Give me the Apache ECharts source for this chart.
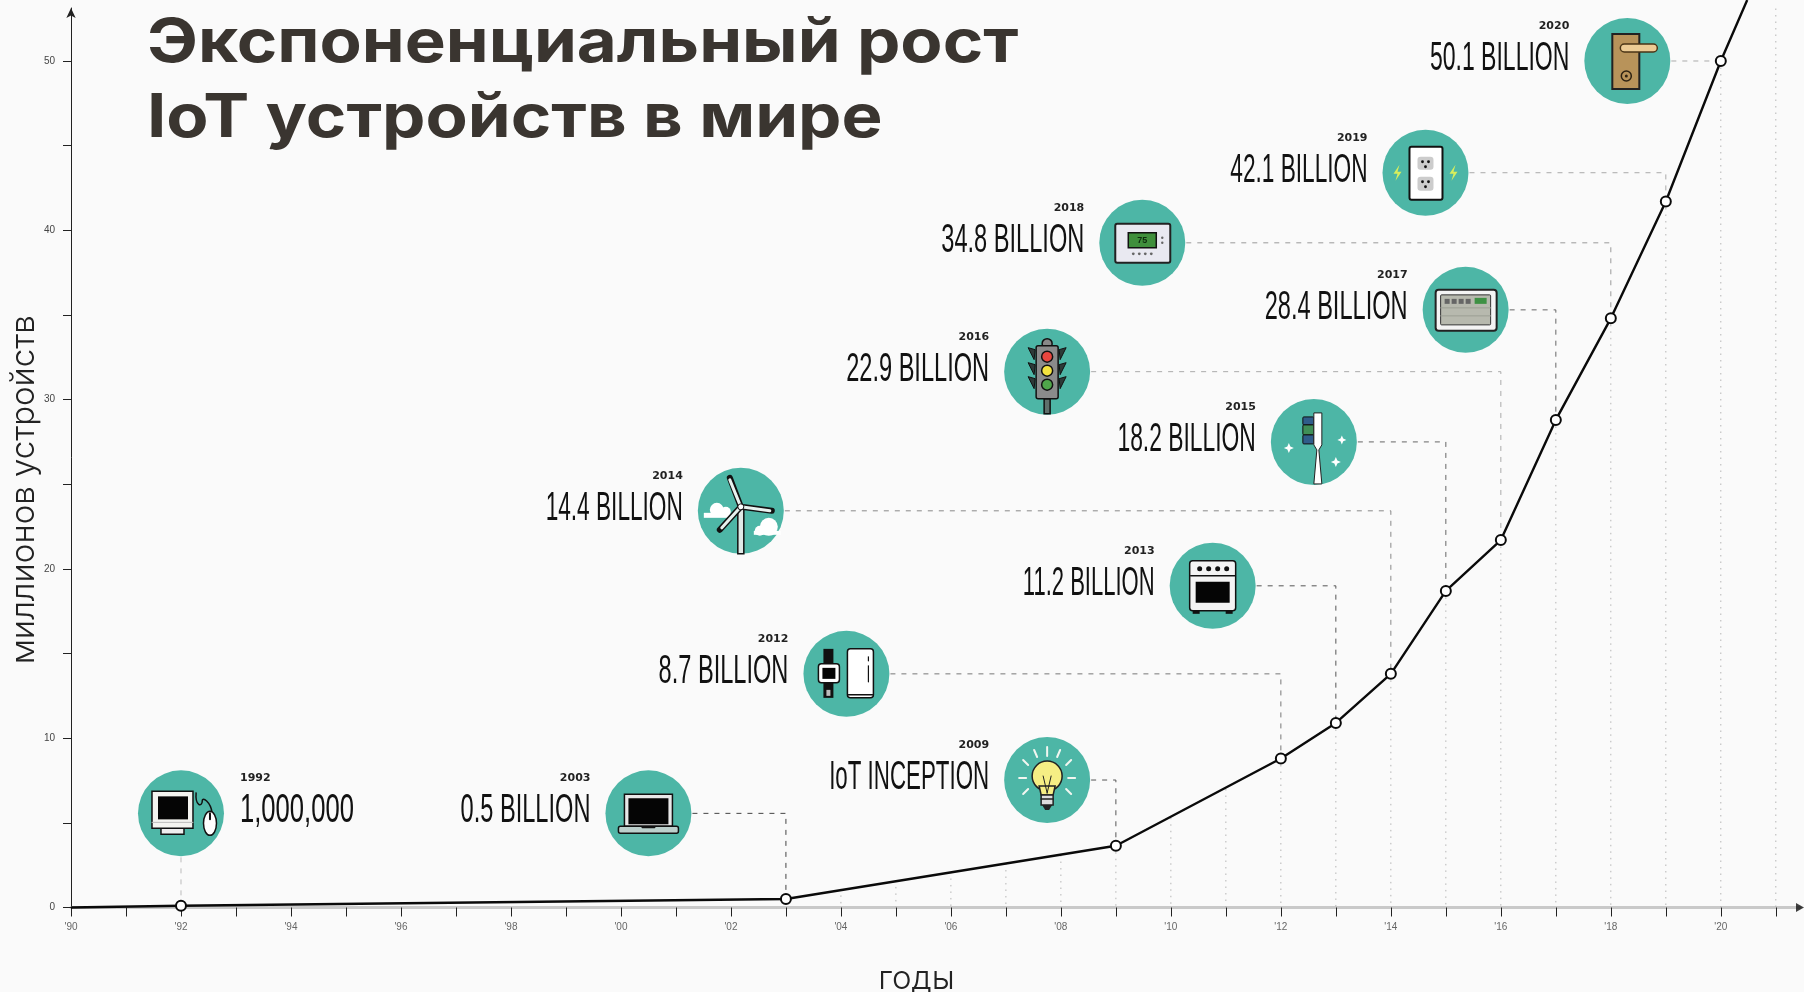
<!DOCTYPE html>
<html>
<head>
<meta charset="utf-8">
<style>
  html, body { margin: 0; padding: 0; background: #fafafa; }
  #chart { width: 1804px; height: 992px; }
</style>
</head>
<body>
<div id="chart"></div>
<script src="https://cdn.jsdelivr.net/npm/echarts@6/dist/echarts.min.js"></script>
<script>
// curve
const lineYears = [1990, 1992, 2003, 2009, 2012, 2013, 2014, 2015, 2016, 2017, 2018, 2019, 2020, 2020.48]
const lineValues = [0, 0.1, 0.5, 3.65, 8.8, 10.9, 13.8, 18.7, 21.7, 28.8, 34.8, 41.7, 50, 53.6]

// dotted drop lines under the curve
const dropYears = [2004, 2005, 2006, 2007, 2008, 2009, 2010, 2011, 2012, 2013, 2014, 2015, 2016, 2017, 2018, 2019, 2020, 2021]
const dropTops = [1.1, 1.6, 2.1, 2.6, 3.1, 3.65, 5.3, 7, 8.8, 10.9, 13.8, 18.7, 21.7, 28.8, 34.8, 41.7, 50, 53.1]

// callouts
const calloutYears = [1992, 2003, 2009, 2012, 2013, 2014, 2015, 2016, 2017, 2018, 2019, 2020]
const calloutValues = [0.1, 0.5, 3.65, 8.8, 10.9, 13.8, 18.7, 21.7, 28.8, 34.8, 41.7, 50]
const calloutTexts = ['1,000,000', '0.5 BILLION', 'IoT INCEPTION', '8.7 BILLION', '11.2 BILLION', '14.4 BILLION',
  '18.2 BILLION', '22.9 BILLION', '28.4 BILLION', '34.8 BILLION', '42.1 BILLION', '50.1 BILLION']
const calloutYearTexts = ['1992', '2003', '2009', '2012', '2013', '2014', '2015', '2016', '2017', '2018', '2019', '2020']
const iconNames = ['monitor', 'laptop', 'bulb', 'fridge', 'oven', 'turbine', 'brush', 'traffic', 'panel', 'thermostat', 'outlet', 'lock']
const iconYears = [1992, 2000.5, 2007.75, 2004.1, 2010.76, 2002.18, 2012.6, 2007.75, 2015.36, 2009.48, 2014.63, 2018.3]
const iconValues = [5.56, 5.56, 7.53, 13.8, 19, 23.43, 27.5, 31.65, 35.3, 39.26, 43.4, 50]
const dashColors = ['#bbb', '#444', '#555', '#777', '#555', '#888', '#666', '#aaa', '#666', '#999', '#aaa', '#aaa']
// no condensed face installed, texts are squeezed one by one
const textSqueeze = [0.64, 0.59, 0.558, 0.59, 0.551, 0.566, 0.571, 0.59, 0.59, 0.59, 0.566, 0.575]

// axes
const xTickYears = []
for (let y = 1990; y <= 2021; y++) xTickYears.push(y)
const xLabelYears = [1990, 1992, 1994, 1996, 1998, 2000, 2002, 2004, 2006, 2008, 2010, 2012, 2014, 2016, 2018, 2020]
const yTicks = [0, 5, 10, 15, 20, 25, 30, 35, 40, 45, 50]
const yLabels = [0, 10, 20, 30, 40, 50]

const titleText = 'Экспоненциальный рост\nIoT устройств в мире'
const xName = 'годы'
const yName = 'миллионов устройств'

const TEAL = '#4db6a6'
const INK = '#111'

const R = (x, y, w, h, fill, stroke, r, lw) => ({ type: 'rect', shape: { x, y, width: w, height: h, r: r || 0 }, style: { fill: fill || 'none', stroke: stroke || 'none', lineWidth: lw || 1.5 } })
const C = (cx, cy, r, fill, stroke, lw) => ({ type: 'circle', shape: { cx, cy, r }, style: { fill: fill || 'none', stroke: stroke || 'none', lineWidth: lw || 1.5 } })
const L = (x1, y1, x2, y2, color, lw) => ({ type: 'line', shape: { x1, y1, x2, y2 }, style: { stroke: color, lineWidth: lw || 1.5, lineCap: 'round' } })
const P = (points, fill, stroke, lw) => ({ type: 'polygon', shape: { points }, style: { fill: fill || 'none', stroke: stroke || 'none', lineWidth: lw || 1.5 } })
const E = (cx, cy, rx, ry, fill, stroke, lw) => ({ type: 'ellipse', shape: { cx, cy, rx, ry }, style: { fill, stroke, lineWidth: lw || 1.5 } })

// 4 pointed sparkle
const spark = (x, y, s) => P([[x, y - s], [x + s * 0.3, y - s * 0.3], [x + s, y], [x + s * 0.3, y + s * 0.3], [x, y + s], [x - s * 0.3, y + s * 0.3], [x - s, y], [x - s * 0.3, y - s * 0.3]], '#fff')
const bolt = (x, y, flip) => P([[x + 2 * flip, y - 8], [x - 4 * flip, y + 1], [x, y + 1], [x - 2 * flip, y + 8], [x + 4 * flip, y - 1], [x, y - 1]], '#d8ee5c')
const blade = (x2, y2) => L(0, -4, x2, y2, INK, 6)
const bladeIn = (x2, y2) => L(0, -4, x2, y2, '#e8f2ef', 3)

const icons = {
  monitor: () => [
    R(-20, 15, 23, 6, '#eee', INK), R(-29, -22, 41, 37, '#f4f4f0', INK), R(-23, -17, 30, 23, '#050505'),
    L(-29, 9, 12, 9, '#bbb', 1),
    { type: 'path', shape: { pathData: 'M16,-21 C15,-8 21,-8 21,-13 C21,-18 28,-12 29,-3', width: 16, height: 20, x: 15, y: -21, layout: 'cover' }, style: { fill: 'none', stroke: INK, lineWidth: 1.5 } },
    E(29, 10, 6.5, 12, '#fff', INK), L(29, 0, 29, 6, INK, 2)
  ],
  laptop: () => [
    R(-24, -19, 48, 32, '#e8e8e8', INK), R(-20, -15, 40, 26, '#050505'),
    R(-30, 13, 60, 7, '#bcd0cc', INK, 2), L(-6, 14, 6, 14, INK, 2)
  ],
  bulb: () => {
    const rays = [[0, -33, 0, -24], [-13, -30, -10, -23], [13, -30, 10, -23], [-24, -20, -19, -15], [24, -20, 19, -15], [-28, -2, -21, -2], [28, -2, 21, -2], [-24, 14, -19, 9], [24, 14, 19, 9]]
    return rays.map(r => L(r[0], r[1], r[2], r[3], '#f2f6f0', 2)).concat([
      C(0, -4, 15, '#f6ee84', '#222'), P([[-8, 6], [8, 6], [6, 15], [-6, 15]], '#f6ee84', '#222'),
      L(-4, -4, 0, 13, '#222', 1), L(4, -4, 0, 13, '#222', 1),
      R(-6, 15, 12, 10, '#ddd', '#222'), L(-6, 19, 6, 19, '#222', 1.5), P([[-5, 25], [5, 25], [2, 30], [-2, 30]], '#222')
    ])
  },
  fridge: () => [
    R(-23, -25, 10, 49, INK), R(-28, -10, 21, 19, '#fff', INK, 3), R(-24, -6, 13, 11, '#050505'),
    R(-20, 16, 4, 6, '#bbb'),
    R(1, -25, 26, 49, '#fff', INK, 3), L(2, 21, 26, 21, INK, 1.5), L(22, -17, 22, -13, INK, 1.2), L(22, -8, 22, 8, INK, 1.2)
  ],
  oven: () => [
    R(-20, 24, 7, 4, INK), R(13, 24, 7, 4, INK),
    R(-23, -25, 46, 50, '#f4f4f4', INK, 3), L(-22, -10, 22, -10, INK, 1.5),
    C(-13, -17, 2.5, INK), C(-4, -17, 2.5, INK), C(5, -17, 2.5, INK), C(14, -17, 2.5, INK),
    R(-17, -4, 34, 21, '#050505')
  ],
  turbine: () => [
    C(-24, -1, 7, '#fff'), C(-15, 1, 5, '#fff'), R(-37, 2, 26, 5, '#fff'),
    C(28, 16, 9, '#fff'), C(19, 20, 5, '#fff'), R(13, 20, 27, 4, '#fff'),
    R(-3, -4, 6, 47, '#dfe9e6', INK, 0, 1.5),
    blade(-11, -33), blade(31, 0), blade(-21, 19), bladeIn(-11, -31), bladeIn(29, 0), bladeIn(-19, 17), C(0, -4, 3, '#fff', INK, 1)
  ],
  brush: () => [
    R(-11, -25, 11, 8, '#2f5d8a', INK, 1, 1), R(-11, -17, 11, 10, '#3f8f57', INK, 1, 1), R(-11, -7, 11, 9, '#2f5d8a', INK, 1, 1),
    P([[0, -29], [8, -29], [8, 3], [5, 8], [8, 42], [0, 42], [3, 8], [0, 3]], '#fff', '#222', 1),
    spark(28, -2, 4.5), spark(22, 20, 5), spark(-25, 6, 5)
  ],
  traffic: () => [
    R(-3, 27, 6, 15, '#5f6f6b', '#111'),
    P([[-12, -22], [-19, -24], [-13, -12]], '#2d3a38', '#111', 1), P([[12, -22], [19, -24], [13, -12]], '#2d3a38', '#111', 1),
    P([[-12, -7], [-19, -9], [-13, 3]], '#2d3a38', '#111', 1), P([[12, -7], [19, -9], [13, 3]], '#2d3a38', '#111', 1),
    P([[-12, 7], [-19, 5], [-13, 17]], '#2d3a38', '#111', 1), P([[12, 7], [19, 5], [13, 17]], '#2d3a38', '#111', 1),
    C(0, -28, 5, '#888', '#111'),
    R(-11, -26, 22, 53, '#8b8b8b', '#111', 2),
    C(0, -15, 5.5, '#e8463f', '#111'), C(0, -1, 5.5, '#f3e23f', '#111'), C(0, 13, 5.5, '#4fa64a', '#111')
  ],
  panel: () => {
    const keys = [-21, -14, -7, 0].map(x => R(x, -11, 5, 5, '#666'))
    return [R(-30, -20, 61, 41, '#f4f4f4', '#222', 3, 2), R(-25, -15, 50, 30, '#b7b9ae', '#333', 1, 1)]
      .concat(keys, [R(9, -12, 12, 6, '#3e9144'), L(-25, -2, 25, -2, '#9c9e94', 1), L(-25, 6, 25, 6, '#9c9e94', 1)])
  },
  thermostat: () => [
    R(-27, -19, 55, 39, '#e9e9f1', '#222', 2, 2), R(-14, -10, 28, 15, '#3f8f3c', '#111', 0, 1.5),
    { type: 'text', x: 0, y: -2.5, style: { text: '75', font: 'bold 9px "Liberation Sans"', fill: '#0c2a0c', align: 'center', verticalAlign: 'middle' } },
    C(-9, 11, 1.4, '#666'), C(-3, 11, 1.4, '#666'), C(3, 11, 1.4, '#666'), C(9, 11, 1.4, '#666'),
    C(20, -5, 1.2, '#666'), C(20, 0, 1.2, '#666')
  ],
  outlet: () => [
    bolt(-28, 0, 1), bolt(28, 0, 1),
    R(-16, -26, 33, 53, '#fff', INK, 2, 2), R(-8, -16, 16, 13, '#ccc', null, 3), R(-8, 4, 16, 14, '#ccc', null, 3),
    C(-3, -11, 1.4, INK), C(3, -11, 1.4, INK), C(0, -6, 1.4, INK),
    C(-3, 9, 1.4, INK), C(3, 9, 1.4, INK), C(0, 14, 1.4, INK)
  ],
  lock: () => [
    R(-15, -27, 27, 55, '#b8935a', '#222', 0, 2),
    R(-7, -17, 37, 8, '#eccb94', '#4a3516', 4), C(-1, 15, 5, 'none', '#2d2212'), C(-1, 15, 1.5, '#2d2212')
  ]
}

const option = {
  backgroundColor: '#fafafa',
  animation: false,
  graphic: [
    {
      // title is wider than any installed face, so stretch it
      type: 'text',
      x: 147,
      y: 6,
      scaleX: 1.149,
      z: 10,
      style: { text: titleText, font: '700 60px Inter', fill: '#3a3530', lineHeight: 75 }
    }
  ],
  grid: { left: 71, right: 4, top: 8, bottom: 84.5, outerBoundsMode: 'none' },
  xAxis: {
    type: 'value',
    min: 1990,
    max: 2021.44,
    interval: 1,
    splitLine: { show: false },
    name: xName,
    nameLocation: 'middle',
    nameGap: 55,
    nameTextStyle: { fontFamily: 'Inter', fontWeight: 300, fontSize: 33, color: '#222', padding: [0, 38, 0, 0] },
    axisLine: { onZero: false, lineStyle: { color: '#c9c9c9', width: 3 } },
    axisTick: { customValues: xTickYears, length: 9, lineStyle: { color: '#222', width: 1 } },
    axisLabel: {
      customValues: xLabelYears,
      margin: 15,
      fontFamily: 'Liberation Sans',
      fontSize: 10,
      color: '#666',
      formatter: v => "'" + String(v).slice(2)
    }
  },
  yAxis: {
    type: 'value',
    min: 0,
    max: 53.13,
    interval: 5,
    splitLine: { show: false },
    name: yName,
    nameLocation: 'middle',
    nameGap: 30,
    nameMoveOverlap: false,
    nameTextStyle: { fontFamily: 'Inter', fontWeight: 300, fontSize: 33, color: '#222', padding: [0, 64, 0, 0] },
    axisLine: { show: true, symbol: ['none', 'arrow'], symbolSize: [7, 10], lineStyle: { color: '#222', width: 1 } },
    axisTick: { customValues: yTicks, length: 8, lineStyle: { color: '#222', width: 1 } },
    axisLabel: {
      customValues: yLabels,
      margin: 16,
      fontFamily: 'Liberation Sans',
      fontSize: 10,
      color: '#444'
    }
  },
  series: [
    {
      // dotted drops
      type: 'custom',
      z: 1,
      clip: false,
      silent: true,
      data: dropYears.map((y, i) => [y, dropTops[i]]),
      renderItem: (params, api) => {
        const top = api.coord([api.value(0), api.value(1)])
        const bottom = api.coord([api.value(0), 0])
        return {
          type: 'line',
          shape: { x1: top[0], y1: top[1], x2: bottom[0], y2: bottom[1] },
          style: { stroke: '#b5b5b5', lineWidth: 1, lineDash: [1.5, 5] }
        }
      }
    },
    {
      // dashed connectors
      type: 'custom',
      z: 2,
      clip: false,
      silent: true,
      data: calloutYears.map((y, i) => [y, calloutValues[i], iconYears[i], iconValues[i]]),
      renderItem: (params, api) => {
        const a = api.coord([api.value(2), api.value(3)])
        const b = api.coord([api.value(0), api.value(3)])
        const c = api.coord([api.value(0), api.value(1)])
        return {
          type: 'polyline',
          shape: { points: [a, b, c] },
          style: { fill: 'none', stroke: dashColors[params.dataIndex], lineWidth: 1, lineDash: [5, 6] }
        }
      }
    },
    {
      type: 'line',
      z: 3,
      clip: false,
      silent: true,
      data: lineYears.map((y, i) => ({
        value: [y, lineValues[i]],
        symbol: i === 0 || i === lineYears.length - 1 ? 'none' : 'circle'
      })),
      symbolSize: 10,
      lineStyle: { color: '#0a0a0a', width: 2.4 },
      itemStyle: { color: '#fff', borderColor: '#0a0a0a', borderWidth: 2 }
    },
    {
      // arrow on the x axis
      type: 'scatter',
      z: 3,
      clip: false,
      silent: true,
      data: [[2021.44, 0]],
      symbol: 'triangle',
      symbolRotate: -90,
      symbolSize: [9, 8],
      itemStyle: { color: '#111' }
    },
    {
      // teal badges with icons and texts
      type: 'custom',
      z: 4,
      clip: false,
      silent: true,
      data: iconYears.map((y, i) => [y, iconValues[i]]),
      renderItem: (params, api) => {
        const i = params.dataIndex
        const p = api.coord([api.value(0), api.value(1)])
        const first = i === 0
        const tx = first ? 59 : -58
        const align = first ? 'left' : 'right'
        return {
          type: 'group',
          x: p[0],
          y: p[1],
          children: [
            C(0, 0, 43, TEAL),
            {
              type: 'group',
              children: icons[iconNames[i]]()
            },
            {
              type: 'text',
              x: tx,
              y: -2,
              scaleX: textSqueeze[i],
              style: { text: calloutTexts[i], font: '40px "Liberation Sans"', fill: '#111', align, verticalAlign: 'middle' }
            },
            {
              type: 'text',
              x: tx,
              y: -35,
              style: { text: calloutYearTexts[i], font: 'bold 11px "DejaVu Sans"', fill: '#222', align, verticalAlign: 'middle' }
            }
          ]
        }
      }
    }
  ]
}

const chart = echarts.init(document.getElementById('chart'))
chart.setOption(option)
</script>
</body>
</html>
